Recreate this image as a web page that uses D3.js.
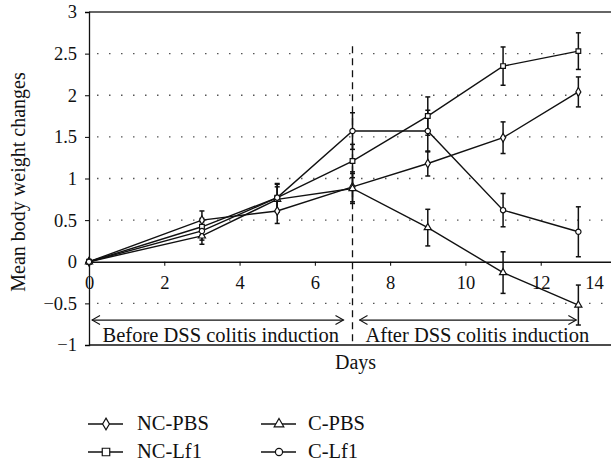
<!DOCTYPE html>
<html>
<head>
<meta charset="utf-8">
<script src="https://cdn.jsdelivr.net/npm/d3@7"></script>
<style>
  body { margin: 0; background: #fff; }
  svg text { font-family: "Liberation Serif", "DejaVu Serif", serif; fill: #111; }
</style>
</head>
<body>
<script>
var width = 611, height = 463;

// days of measurement
var days = [0, 3, 5, 7, 9, 11, 13];
// series means and error (+/-) per day
var ncPbs    = [0, 0.50, 0.61, 0.90, 1.18, 1.49, 2.04];
var ncPbsErr = [0, 0.11, 0.15, 0.18, 0.15, 0.19, 0.18];
var ncLf1    = [0, 0.42, 0.77, 1.21, 1.75, 2.35, 2.53];
var ncLf1Err = [0, 0.10, 0.16, 0.20, 0.23, 0.23, 0.22];
var cPbs     = [0, 0.31, 0.75, 0.88, 0.41, -0.13, -0.52];
var cPbsErr  = [0, 0.10, 0.15, 0.18, 0.22, 0.25, 0.24];
var cLf1     = [0, 0.37, 0.77, 1.57, 1.57, 0.62, 0.36];
var cLf1Err  = [0, 0.11, 0.17, 0.22, 0.25, 0.20, 0.30];
// series names in legend order
var seriesNames = ["NC-PBS", "NC-Lf1", "C-PBS", "C-Lf1"];
// axis ticks
var xTicks = [0, 2, 4, 6, 8, 10, 12, 14];
var yTicks = [-1, -0.5, 0, 0.5, 1, 1.5, 2, 2.5, 3];
// periods (days) shown below the axis
var periodLabels = ["Before DSS colitis induction", "After DSS colitis induction"];
var periodStart = [0, 7];
var periodEnd = [7, 13];
var colitisDay = 7;

var series = [
  {name: seriesNames[0], values: ncPbs, err: ncPbsErr, symbol: d3.symbolDiamond},
  {name: seriesNames[1], values: ncLf1, err: ncLf1Err, symbol: d3.symbolSquare},
  {name: seriesNames[2], values: cPbs, err: cPbsErr, symbol: d3.symbolTriangle},
  {name: seriesNames[3], values: cLf1, err: cLf1Err, symbol: d3.symbolCircle}
];

var serif = '"Liberation Serif", "DejaVu Serif", serif';

var svg = d3.select("body").append("svg")
    .attr("width", width)
    .attr("height", height);

var x = d3.scaleLinear().domain([0, 14]).range([89, 616]);
var y = d3.scaleLinear().domain([-1, 3]).range([345, 12]);

// dotted grid
svg.append("g").selectAll("line")
    .data(yTicks.filter(function(d){ return d !== 0 && d !== 3 && d !== -1; }))
    .enter().append("line")
    .attr("x1", x(0) + 8).attr("x2", width)
    .attr("y1", function(d){ return y(d); })
    .attr("y2", function(d){ return y(d); })
    .style("stroke", "#555")
    .style("stroke-width", 1.3)
    .style("stroke-dasharray", "1.5,10.5");

// frame top and bottom
svg.append("line")
    .attr("x1", x(0)).attr("x2", width)
    .attr("y1", y(3)).attr("y2", y(3))
    .style("stroke", "#333").style("stroke-width", 1.6);
svg.append("line")
    .attr("x1", x(0)).attr("x2", width)
    .attr("y1", y(-1)).attr("y2", y(-1))
    .style("stroke", "#111").style("stroke-width", 1.3);

// y axis
var yAxis = d3.axisLeft(y).tickValues(yTicks).tickSize(4).tickPadding(8)
    .tickFormat(function(d){ return d < 0 ? "\u2212" + Math.abs(d) : d; });
var gy = svg.append("g")
    .attr("transform", "translate(" + x(0) + ",0)")
    .attr("font-family", serif)
    .call(yAxis);
gy.select(".domain").style("stroke", "#111").style("stroke-width", 1.3);
gy.selectAll("text").style("font-size", "18.5px").style("fill", "#111");

// x axis at y = 0
var xAxis = d3.axisBottom(x).tickValues(xTicks).tickSize(4).tickPadding(10);
var gx = svg.append("g")
    .attr("transform", "translate(0," + y(0) + ")")
    .attr("font-family", serif)
    .call(xAxis);
gx.attr("font-family", serif);
gy.attr("font-family", serif);
gx.select(".domain").style("stroke", "#111").style("stroke-width", 1.3);
gx.selectAll("text").style("font-size", "18.5px").style("fill", "#111");
gx.selectAll(".tick").filter(function(d){ return d === 0; }).select("line").remove();
gx.selectAll(".tick").filter(function(d){ return d === 14; }).select("text").attr("dx", -22);

// dashed line at colitis induction
svg.append("line")
    .attr("x1", x(colitisDay)).attr("x2", x(colitisDay))
    .attr("y1", y(2.59)).attr("y2", y(-1))
    .style("stroke", "#111").style("stroke-width", 1.3)
    .style("stroke-dasharray", "7,5");

// period arrows and labels
svg.append("defs").append("marker")
    .attr("id", "chev")
    .attr("viewBox", "0 0 10 10")
    .attr("refX", 9).attr("refY", 5)
    .attr("markerWidth", 10).attr("markerHeight", 10)
    .attr("markerUnits", "userSpaceOnUse")
    .attr("orient", "auto-start-reverse")
  .append("path")
    .attr("d", "M1,0.5 L9,5 L1,9.5")
    .style("fill", "none").style("stroke", "#111").style("stroke-width", 1.1);

var padStart = [3, 7], padEnd = [9, 2];
periodLabels.forEach(function(lbl, i) {
  svg.append("line")
      .attr("x1", x(periodStart[i]) + padStart[i]).attr("x2", x(periodEnd[i]) - padEnd[i])
      .attr("y1", y(-0.70)).attr("y2", y(-0.70))
      .style("stroke", "#111").style("stroke-width", 1.2)
      .attr("marker-start", "url(#chev)")
      .attr("marker-end", "url(#chev)");
  svg.append("text")
      .attr("x", i === 0 ? (x(periodStart[i]) + x(periodEnd[i])) / 2 : x(periodStart[i]) + 13)
      .attr("y", y(-1) - 3)
      .attr("text-anchor", i === 0 ? "middle" : "start")
      .style("font-size", "20.5px")
      .text(lbl);
});

// lines
var line = d3.line()
    .x(function(d, i){ return x(days[i]); })
    .y(function(d){ return y(d); });

svg.append("g").selectAll("path")
    .data(series)
    .enter().append("path")
    .attr("d", function(s){ return line(s.values); })
    .style("fill", "none")
    .style("stroke", "#111")
    .style("stroke-width", 1.4);

// error bars
series.forEach(function(s) {
  var g = svg.append("g");
  s.values.forEach(function(v, i) {
    if (!s.err[i]) return;
    var cx = x(days[i]), y1 = y(v + s.err[i]), y2 = y(v - s.err[i]);
    g.append("line").attr("x1", cx).attr("x2", cx).attr("y1", y1).attr("y2", y2)
        .style("stroke", "#111").style("stroke-width", 1.5);
    [y1, y2].forEach(function(yy) {
      g.append("line").attr("x1", cx - 2.5).attr("x2", cx + 2.5).attr("y1", yy).attr("y2", yy)
          .style("stroke", "#111").style("stroke-width", 1.5);
    });
  });
});

// markers
series.forEach(function(s) {
  svg.append("g").selectAll("path")
      .data(s.values)
      .enter().append("path")
      .attr("transform", function(d, i){ return "translate(" + x(days[i]) + "," + y(d) + ")"; })
      .attr("d", d3.symbol().type(s.symbol).size(22))
      .style("fill", "#fff")
      .style("stroke", "#111")
      .style("stroke-width", 1.2);
});

// axis titles
svg.append("text")
    .attr("x", x(7) + 3).attr("y", 369)
    .attr("text-anchor", "middle")
    .style("font-size", "20px")
    .text("Days");
svg.append("text")
    .attr("transform", "translate(25,182) rotate(-90)")
    .attr("text-anchor", "middle")
    .style("font-size", "20px")
    .text("Mean body weight changes");

// legend
var legX = [88, 261], legY = [424, 452], legText = [49, 47];
series.forEach(function(s, i) {
  var col = i < 2 ? 0 : 1, row = i % 2;
  var g = svg.append("g")
      .attr("transform", "translate(" + legX[col] + "," + legY[row] + ")");
  g.append("line").attr("x1", 0).attr("x2", 35).attr("y1", 0).attr("y2", 0)
      .style("stroke", "#111").style("stroke-width", 1.4);
  g.append("path").attr("transform", "translate(18,0)")
      .attr("d", d3.symbol().type(s.symbol).size(s.symbol === d3.symbolSquare ? 56 : 40))
      .style("fill", "#fff").style("stroke", "#111").style("stroke-width", 1.2);
  g.append("text").attr("x", legText[col]).attr("y", 6)
      .style("font-size", "20.5px")
      .text(s.name);
});
</script>
</body>
</html>
